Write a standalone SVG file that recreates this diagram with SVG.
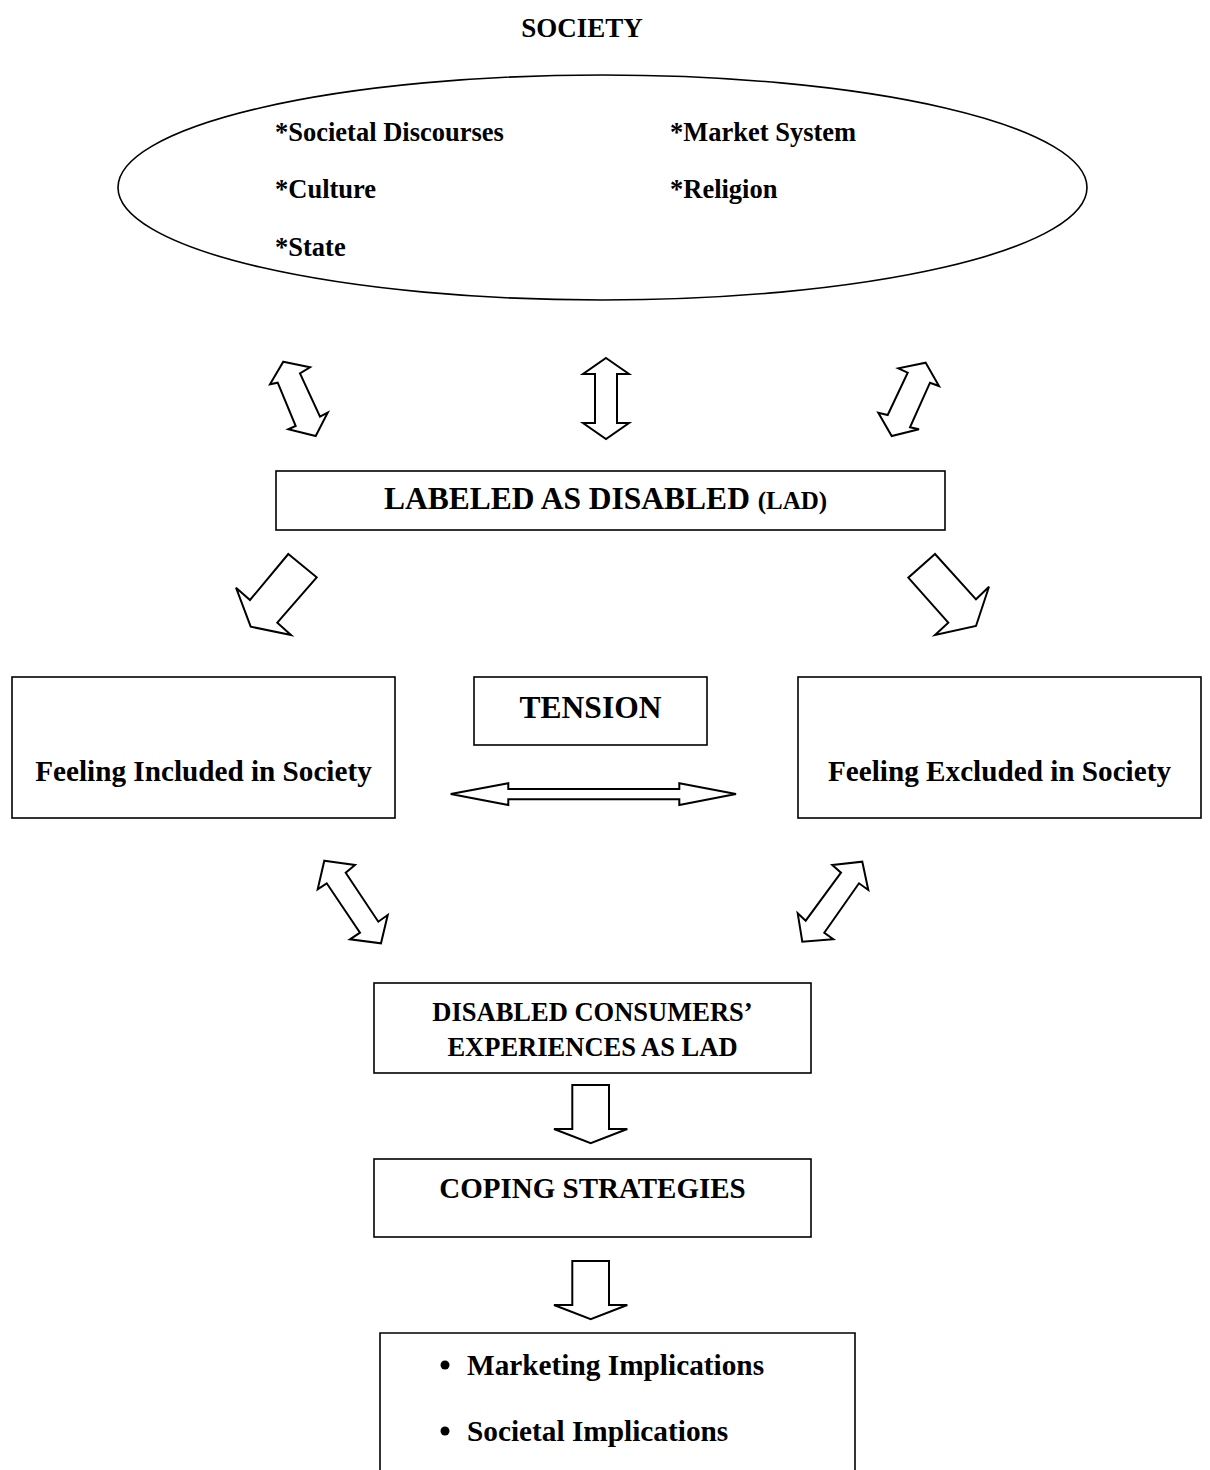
<svg xmlns="http://www.w3.org/2000/svg" width="1210" height="1470" viewBox="0 0 1210 1470">
<style>
.t{font-family:"Liberation Serif","Times New Roman",serif;font-weight:bold;fill:#000}
.box{fill:#fff;stroke:#000;stroke-width:1.6}
.arr{fill:#fff;stroke:#000;stroke-width:2;stroke-linejoin:miter}
</style>
<rect width="1210" height="1470" fill="#fff"/>
<g id="society">
<text class="t" x="582" y="37" font-size="27" text-anchor="middle">SOCIETY</text>
<ellipse class="box" cx="602.5" cy="187.5" rx="484.5" ry="112.5"/>
<text class="t" x="275" y="141" font-size="26.5">*Societal Discourses</text>
<text class="t" x="275" y="198" font-size="26.5">*Culture</text>
<text class="t" x="275" y="256" font-size="26.5">*State</text>
<text class="t" x="670" y="141" font-size="26.5">*Market System</text>
<text class="t" x="670" y="198" font-size="26.5">*Religion</text>
</g>
<g id="lad">
<rect class="box" x="276" y="471" width="669" height="59"/>
<text class="t" x="384" y="509" font-size="31.5">LABELED AS DISABLED <tspan font-size="25">(LAD)</tspan></text>
</g>
<g id="included">
<rect class="box" x="12" y="677" width="383" height="141"/>
<text class="t" x="203.5" y="781" font-size="29.2" text-anchor="middle">Feeling Included in Society</text>
</g>
<g id="tension">
<rect class="box" x="474" y="677" width="233" height="68"/>
<text class="t" x="590.5" y="718" font-size="31.5" text-anchor="middle">TENSION</text>
</g>
<g id="excluded">
<rect class="box" x="798" y="677" width="403" height="141"/>
<text class="t" x="999.5" y="781" font-size="29.2" text-anchor="middle">Feeling Excluded in Society</text>
</g>
<g id="experiences">
<rect class="box" x="374" y="983" width="437" height="90"/>
<text class="t" x="592.5" y="1021" font-size="26.5" text-anchor="middle">DISABLED CONSUMERS’</text>
<text class="t" x="592.5" y="1056" font-size="26.5" text-anchor="middle">EXPERIENCES AS LAD</text>
</g>
<g id="coping">
<rect class="box" x="374" y="1159" width="437" height="78"/>
<text class="t" x="592.5" y="1198" font-size="29" text-anchor="middle">COPING STRATEGIES</text>
</g>
<g id="implications">
<path class="box" d="M380,1480 V1333 H855 V1480"/>
<circle cx="445" cy="1365" r="4.5" fill="#000"/>
<circle cx="445" cy="1431" r="4.5" fill="#000"/>
<text class="t" x="467" y="1375" font-size="29.3">Marketing Implications</text>
<text class="t" x="467" y="1441" font-size="29.3">Societal Implications</text>
</g>
<g id="connectors">
<polygon class="arr" points="283.3,361.7 310,367.3 300,373.3 320,416.7 327.7,412.7 315.7,436 288.3,429.3 295.7,426 277.7,382.7 270,384.3"/>
<polygon class="arr" points="606,358 629,374 617,374 617,423 629,423 606,439 583,423 595,423 595,374 583,374"/>
<polygon class="arr" points="925.7,362.7 939,386 930,382.7 910,427.3 919,429.3 891.7,436 878.3,412.7 887.7,415 907.7,372.7 898.3,368.3"/>
<polygon class="arr" points="288.3,554 316.7,577.3 277.3,622.7 291,635 250.7,626.7 236,587.7 250,600"/>
<polygon class="arr" points="935,554 908.3,577.7 948.3,622.7 935,635 976,626 989,586.7 976,599.3"/>
<polygon class="arr" points="450.7,794 508.3,783.3 508.3,789 679.3,789 679.3,783.3 736,794 679.3,805 679.3,799.3 508.3,799.3 508.3,805"/>
<polygon class="arr" points="324.3,860.7 355,865 345.7,872.7 378.3,921.7 387.7,915 381,943.3 350,939.3 360,932.7 326.7,883.3 317.7,889.3"/>
<polygon class="arr" points="862.3,861.7 868.3,890 859,883.3 824.3,932.7 833.3,939.3 802.3,941.7 797.7,913.3 805.7,920.7 841,872.7 832.3,865"/>
<polygon class="arr" points="572.3,1085 609,1085 609,1129 627.3,1129 590.7,1143.3 554,1129 572.3,1129"/>
<polygon class="arr" points="572.3,1261 609,1261 609,1305 627.3,1305 590.7,1319.3 554,1305 572.3,1305"/>
</g>
</svg>
